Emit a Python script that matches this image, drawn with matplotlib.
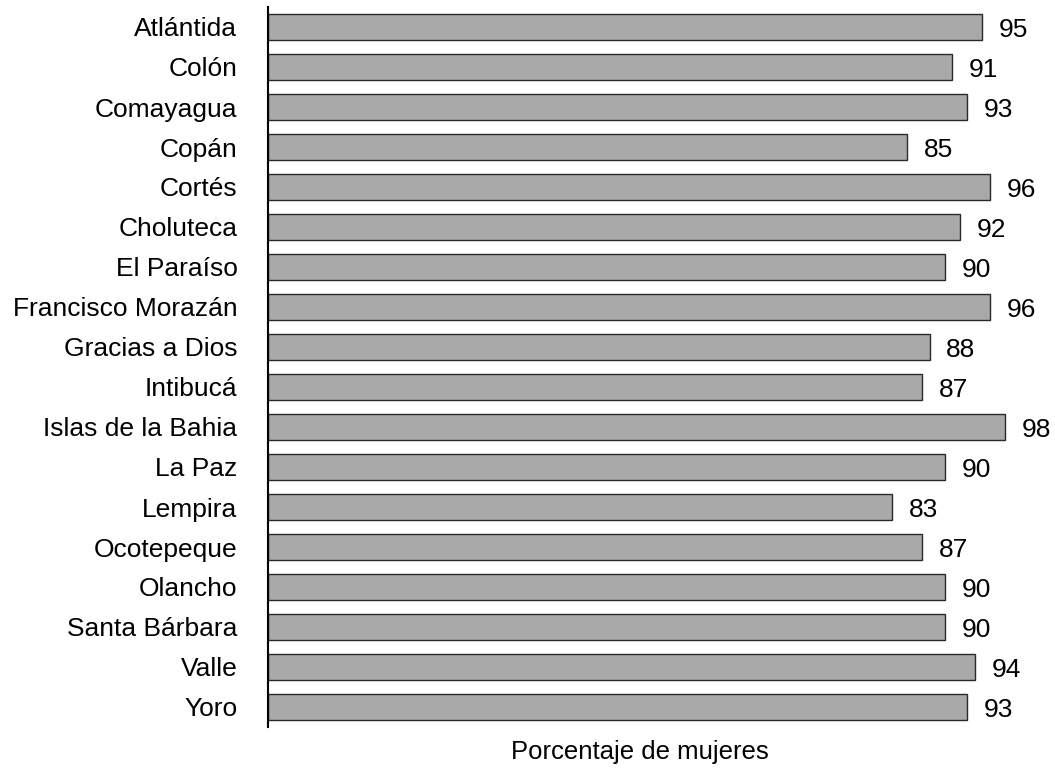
import matplotlib.pyplot as plt

plt.rcParams['font.family'] = ['Liberation Sans', 'DejaVu Sans']

# Departamentos y porcentaje de mujeres
departamentos = ['Atlántida', 'Colón', 'Comayagua', 'Copán', 'Cortés', 'Choluteca',
                 'El Paraíso', 'Francisco Morazán', 'Gracias a Dios', 'Intibucá',
                 'Islas de la Bahia', 'La Paz', 'Lempira', 'Ocotepeque', 'Olancho',
                 'Santa Bárbara', 'Valle', 'Yoro']
porcentajes = [95, 91, 93, 85, 96, 92, 90, 96, 88, 87, 98, 90, 83, 87, 90, 90, 94, 93]

fig = plt.figure(figsize=(10.55, 7.70), dpi=100)
ax = fig.add_axes([268 / 1055, 1 - 727 / 770, (1050 - 268) / 1055, 720 / 770])

pos = list(range(len(departamentos)))
bars = ax.barh(pos, porcentajes, height=0.65, color='#a9a9a9',
               edgecolor='#2a2a2a', linewidth=1.0)

for b, v in zip(bars, porcentajes):
    ax.annotate(str(v), (b.get_width(), b.get_y() + b.get_height() / 2),
                xytext=(12, -2.5), textcoords='offset points',
                ha='left', va='center', fontsize=19)

ax.set_xlim(0, 104)
ax.set_ylim(len(departamentos) - 0.5, -0.5)
ax.set_yticks(pos)
ax.set_yticklabels(departamentos, fontsize=19)
ax.tick_params(axis='y', length=0, pad=22)
ax.set_xticks([])

for s in ['top', 'right', 'bottom']:
    ax.spines[s].set_visible(False)
ax.spines['left'].set_linewidth(1.5)

fig.text(640 / 1055, 1 - 752 / 770, 'Porcentaje de mujeres',
         ha='center', va='center', fontsize=18.5)

fig.savefig('out.png', dpi=100)
